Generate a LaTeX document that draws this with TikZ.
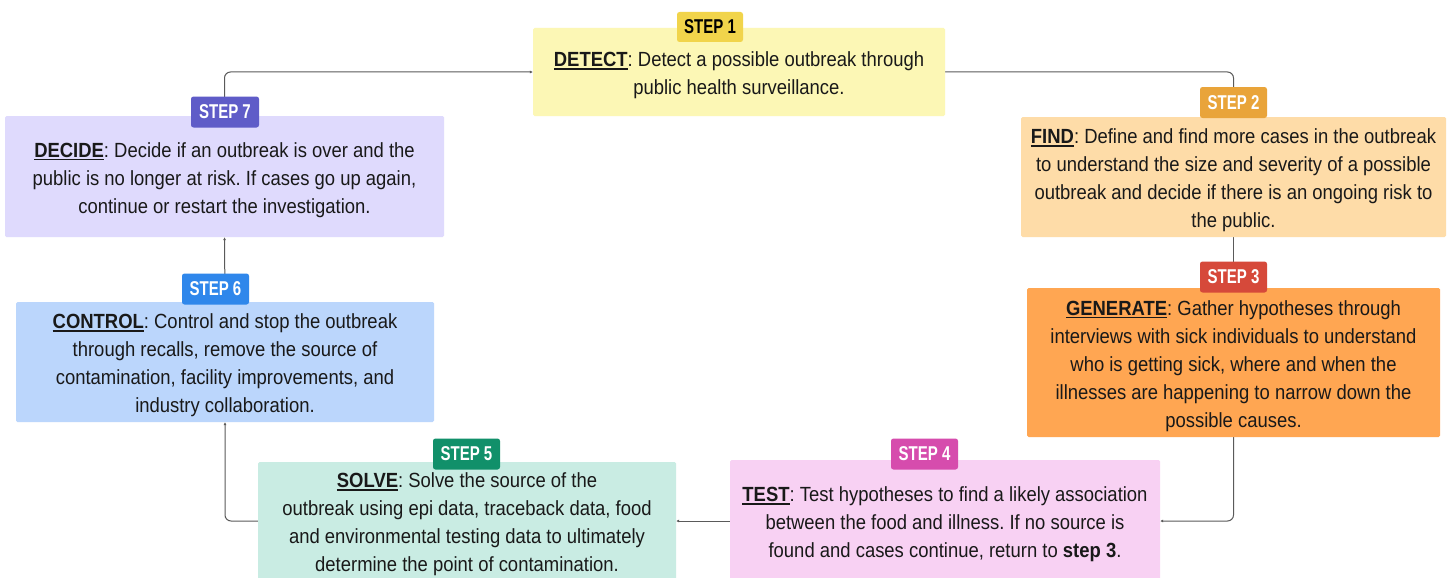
\documentclass[tikz,border=0pt]{standalone}
\usepackage{fontspec}
\setmainfont[FakeStretch=0.9]{Liberation Sans}
\newfontfamily\condfont[FakeStretch=0.75]{Liberation Sans}
\usetikzlibrary{arrows.meta}
\pgfdeclarelayer{bg}
\pgfsetlayers{bg,main}
\frenchspacing
\definecolor{f1}{HTML}{FCF7B5}\definecolor{b1}{HTML}{F1D44B}
\definecolor{f2}{HTML}{FEDCA8}\definecolor{b2}{HTML}{E9A43A}
\definecolor{f3}{HTML}{FFA652}\definecolor{b3}{HTML}{D6493A}
\definecolor{f4}{HTML}{F8D1F3}\definecolor{b4}{HTML}{D64CAD}
\definecolor{f5}{HTML}{C9ECE3}\definecolor{b5}{HTML}{11906A}
\definecolor{f6}{HTML}{BBD6FC}\definecolor{b6}{HTML}{2F87EB}
\definecolor{f7}{HTML}{DFDAFD}\definecolor{b7}{HTML}{5F5CC8}
\definecolor{linec}{HTML}{5A5A5A}
\newcommand\steptitle[1]{\rule{0pt}{22pt}\setbox0\hbox{\textbf{#1}}\rlap{\usebox0}\rule[-3pt]{\wd0}{1.6pt}}
\tikzset{
  stepbox/.style={rounded corners=1.5pt, inner sep=0pt, align=center,
    font=\fontsize{20.5}{28}\selectfont\frenchspacing, text=black!90},
  badge/.style={rounded corners=2.5pt, inner sep=0pt, minimum height=31pt,
    minimum width=67pt, text=white, font=\condfont\bfseries\fontsize{20}{20}\selectfont},
  conn/.style={draw=linec, line width=1pt, rounded corners=6pt,
    -{Latex[length=3pt,width=3pt]}},
}
\begin{document}
\begin{tikzpicture}[x=1pt,y=-1pt]
\useasboundingbox (0,0) rectangle (1456,578);
% boxes
\node[stepbox, fill=f1, minimum width=412pt, minimum height=88pt] (s1) at (739,72)
  {\steptitle{DETECT}: Detect a possible outbreak through\\public health surveillance.};
\node[stepbox, fill=f2, minimum width=425pt, minimum height=120pt] (s2) at (1233.5,177)
  {\steptitle{FIND}: Define and find more cases in the outbreak\\to understand the size and severity of a possible\\outbreak and decide if there is an ongoing risk to\\the public.};
\node[stepbox, fill=f3, minimum width=413pt, minimum height=149pt] (s3) at (1233.5,362.5)
  {\steptitle{GENERATE}: Gather hypotheses through\\interviews with sick individuals to understand\\who is getting sick, where and when the\\illnesses are happening to narrow down the\\possible causes.};
\node[stepbox, fill=f4, minimum width=430pt, minimum height=122pt] (s4) at (945,521)
  {\steptitle{TEST}: Test hypotheses to find a likely association\\between the food and illness. If no source is\\found and cases continue, return to \textbf{step 3}.};
\node[stepbox, fill=f5, minimum width=418pt, minimum height=118pt] (s5) at (467,521)
  {\steptitle{SOLVE}: Solve the source of the\\outbreak using epi data, traceback data, food\\and environmental testing data to ultimately\\determine the point of contamination.};
\node[stepbox, fill=f6, minimum width=418pt, minimum height=120pt] (s6) at (225,362)
  {\steptitle{CONTROL}: Control and stop the outbreak\\through recalls, remove the source of\\contamination, facility improvements, and\\industry collaboration.};
\node[stepbox, fill=f7, minimum width=439pt, minimum height=121pt] (s7) at (224.5,176.5)
  {\steptitle{DECIDE}: Decide if an outbreak is over and the\\public is no longer at risk. If cases go up again,\\continue or restart the investigation.};
% badges
\node[badge, fill=b1, text=black, minimum width=66pt, minimum height=30pt] (t1) at (710,27) {STEP 1};
\node[badge, fill=b2] (t2) at (1233.5,102.5) {STEP 2};
\node[badge, fill=b3] (t3) at (1233.5,277) {STEP 3};
\node[badge, fill=b4] (t4) at (924.5,454) {STEP 4};
\node[badge, fill=b5] (t5) at (466.5,454) {STEP 5};
\node[badge, fill=b6] (t6) at (215.5,289) {STEP 6};
\node[badge, fill=b7, minimum width=68pt] (t7) at (225,112) {STEP 7};
% connectors
\begin{pgfonlayer}{bg}
\fill[white] (0,0) rectangle (1456,578);
\draw[conn] (s1.east) -| (s2.north);
\draw[conn] (s2.south) -- (s3.north);
\draw[conn] (s3.south) |- (s4.east);
\draw[conn] (s4.west) -- (s5.east);
\draw[conn] (s5.west) -| (s6.south);
\draw[conn] (s6.north) -- (s7.south);
\draw[conn] (s7.north) |- (s1.west);
\end{pgfonlayer}
\end{tikzpicture}
\end{document}
